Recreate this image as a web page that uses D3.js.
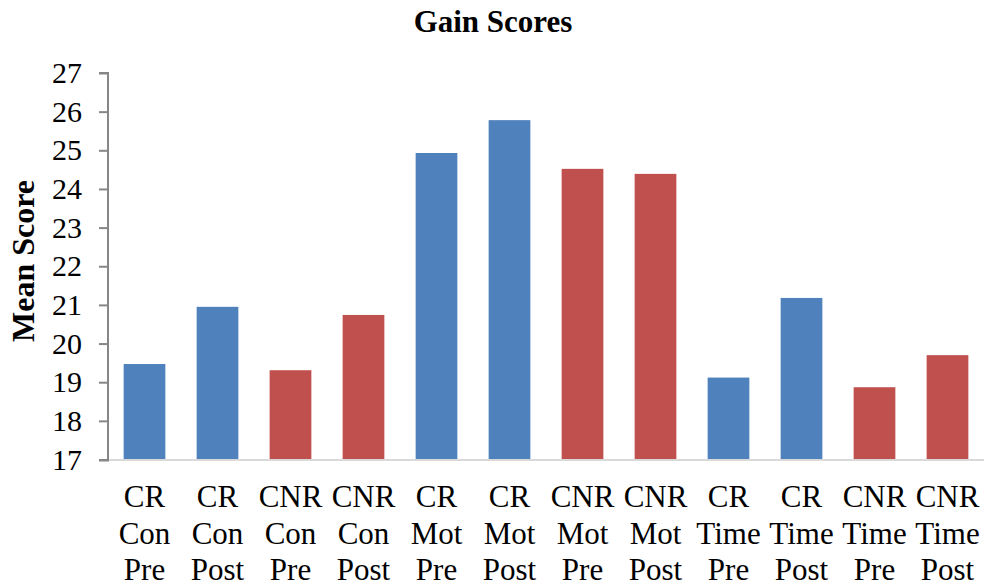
<!DOCTYPE html>
<html>
<head>
<meta charset="utf-8">
<script src="https://cdn.jsdelivr.net/npm/d3@7"></script>
<style>
  html, body { margin: 0; padding: 0; background: #fff; }
  svg { display: block; }
  text { font-family: "Liberation Serif", "Times New Roman", serif; fill: #000; }
</style>
</head>
<body>
<svg id="chart" width="984" height="587"></svg>
<script>
// Group / measure / time point for each bar
const groups   = ["CR", "CR", "CNR", "CNR", "CR", "CR", "CNR", "CNR", "CR", "CR", "CNR", "CNR"];
const measures = ["Con", "Con", "Con", "Con", "Mot", "Mot", "Mot", "Mot", "Time", "Time", "Time", "Time"];
const phases   = ["Pre", "Post", "Pre", "Post", "Pre", "Post", "Pre", "Post", "Pre", "Post", "Pre", "Post"];
const meanScores = [19.47, 20.95, 19.31, 20.74, 24.93, 25.78, 24.52, 24.39, 19.12, 21.18, 18.87, 19.70];
const yTicks = [17, 18, 19, 20, 21, 22, 23, 24, 25, 26, 27];
const groupColors = { CR: "#4F81BD", CNR: "#C0504D" };

const svg = d3.select("#chart");
const plotLeft = 108, plotRight = 984, plotTop = 73, plotBottom = 459.5;

const ids = meanScores.map((_, i) => i);
const x = d3.scaleBand()
  .domain(ids)
  .range([plotLeft, plotRight])
  .paddingInner(0.4286)
  .paddingOuter(0.2143);

const y = d3.scaleLinear().domain([17, 27]).range([plotBottom, plotTop]);

// Title
svg.append("text")
  .attr("x", 493).attr("y", 32)
  .attr("text-anchor", "middle")
  .style("font-size", "31px").style("font-weight", "bold")
  .text("Gain Scores");

// Y axis title
svg.append("text")
  .attr("transform", `translate(34,261) rotate(-90)`)
  .attr("text-anchor", "middle")
  .style("font-size", "32px").style("font-weight", "bold")
  .text("Mean Score");

// Bars
svg.append("g").selectAll("rect")
  .data(ids)
  .join("rect")
  .attr("x", i => x(i))
  .attr("width", x.bandwidth())
  .attr("y", i => y(meanScores[i]))
  .attr("height", i => y(17) - y(meanScores[i]))
  .attr("fill", i => groupColors[groups[i]]);

// X axis baseline
svg.append("line")
  .attr("x1", plotLeft).attr("x2", plotRight)
  .attr("y1", plotBottom + 0.5).attr("y2", plotBottom + 0.5)
  .attr("stroke", "#d9d9d9").attr("stroke-width", 2);

// Y axis
const yAxis = svg.append("g")
  .attr("transform", `translate(${plotLeft},0)`)
  .call(d3.axisLeft(y).tickValues(yTicks).tickSize(9).tickPadding(17).tickFormat(d3.format("d")));
yAxis.select(".domain").attr("stroke", "#868686").attr("stroke-width", 2)
  .attr("d", `M-9,${plotTop}H0V${plotBottom + 1}H-9`);
yAxis.selectAll(".tick line").attr("stroke", "#868686").attr("stroke-width", 2);
yAxis.selectAll(".tick text")
  .style("font-family", "'Liberation Serif', 'Times New Roman', serif")
  .style("font-size", "30px").attr("fill", "#000");

// Category labels, three lines each
const labels = svg.append("g").selectAll("text")
  .data(ids)
  .join("text")
  .attr("text-anchor", "middle")
  .attr("x", i => x(i) + x.bandwidth() / 2)
  .style("font-size", "31px");
labels.each(function(i) {
  const t = d3.select(this);
  [groups[i], measures[i], phases[i]].forEach((s, k) => {
    t.append("tspan")
      .attr("x", x(i) + x.bandwidth() / 2)
      .attr("y", 507 + k * 36.5)
      .text(s);
  });
});
</script>
</body>
</html>
